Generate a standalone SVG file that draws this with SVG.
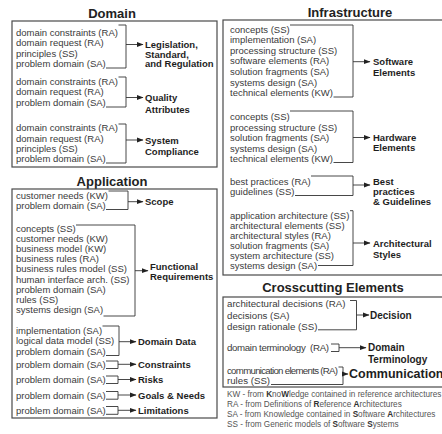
<svg xmlns="http://www.w3.org/2000/svg" width="442" height="434" viewBox="0 0 442 434">
<style>
text{font-family:"Liberation Sans",Arial,sans-serif}
.t{font-size:9.5px;fill:#3a3a3a}
.tc{font-size:9.7px;fill:#3a3a3a}
.l{font-size:9.5px;font-weight:bold;fill:#1e1e1e}
.lc{font-size:10px;font-weight:bold;fill:#1e1e1e}
.h{font-size:13px;font-weight:bold;fill:#222;text-anchor:middle}
.box{fill:#fff;stroke:#4a4a4a;stroke-width:1.2}
.br{fill:none;stroke:#333;stroke-width:0.9}
.ar{fill:none;stroke:#333;stroke-width:0.9;marker-end:url(#ah)}
.lg{font-size:8.2px;fill:#555}
.b{font-weight:bold;fill:#333}
</style>
<defs>
<marker id="ah" markerUnits="userSpaceOnUse" markerWidth="7" markerHeight="6" refX="6" refY="3" orient="auto">
<path d="M0,0.6 L6.5,3 L0,5.4 z" fill="#222"/>
</marker>
</defs>
<rect width="442" height="434" fill="#fff"/>

<g id="domain">
<text class="h" x="112" y="18">Domain</text>
<rect class="box" x="12" y="21" width="205" height="146"/>
</g>
<g id="application">
<text class="h" x="112" y="186">Application</text>
<rect class="box" x="12" y="189" width="205" height="229"/>
</g>
<g id="infrastructure">
<text class="h" x="350" y="16.5">Infrastructure</text>
<rect class="box" x="223" y="20" width="230" height="255"/>
</g>
<g id="crosscutting">
<text class="h" x="333" y="292">Crosscutting Elements</text>
<rect class="box" x="223" y="297" width="230" height="90"/>
</g>

<g id="legislation">
<text class="t" x="16" y="35.5">domain constraints (RA)</text>
<text class="t" x="16" y="46">domain request (RA)</text>
<text class="t" x="16" y="56.5">principles (SS)</text>
<text class="t" x="16" y="67">problem domain (SA)</text>
<text class="l" x="145" y="48">Legislation,</text>
<text class="l" x="145" y="57.5">Standard,</text>
<text class="l" x="145" y="67">and Regulation</text>
</g>
<g id="quality">
<text class="t" x="16" y="84.5">domain constraints (RA)</text>
<text class="t" x="16" y="95">domain request (RA)</text>
<text class="t" x="16" y="105.5">problem domain (SA)</text>
<text class="l" x="145" y="101">Quality</text>
<text class="l" x="145" y="112.5">Attributes</text>
</g>
<g id="compliance">
<text class="t" x="16" y="131">domain constraints (RA)</text>
<text class="t" x="16" y="141.5">domain request (RA)</text>
<text class="t" x="16" y="152">principles (SS)</text>
<text class="t" x="16" y="162">problem domain (SA)</text>
<text class="l" x="145" y="143.5">System</text>
<text class="l" x="145" y="155">Compliance</text>
</g>

<g id="scope">
<text class="t" x="16" y="198.5">customer needs (KW)</text>
<text class="t" x="16" y="208.5">problem domain (SA)</text>
<text class="l" x="145" y="205">Scope</text>
</g>
<g id="functional">
<text class="t" x="16" y="231.8">concepts (SS)</text>
<text class="t" x="16" y="242">customer needs (KW)</text>
<text class="t" x="16" y="252.1">business model (KW)</text>
<text class="t" x="16" y="262.3">business rules (RA)</text>
<text class="t" x="16" y="272.4">business rules model (SS)</text>
<text class="t" x="16" y="282.6">human interface arch. (SS)</text>
<text class="t" x="16" y="292.7">problem domain (SA)</text>
<text class="t" x="16" y="302.9">rules (SS)</text>
<text class="t" x="16" y="313">systems design (SA)</text>
<text class="l" x="150" y="269.5">Functional</text>
<text class="l" x="150" y="279.8">Requirements</text>
</g>
<g id="domaindata">
<text class="t" x="16" y="333.5">implementation (SA)</text>
<text class="t" x="16" y="344">logical data model (SS)</text>
<text class="t" x="16" y="354.5">problem domain (SA)</text>
<text class="l" x="138" y="345">Domain Data</text>
</g>
<g id="constraints">
<text class="t" x="16" y="367.5">problem domain (SA)</text>
<text class="l" x="138" y="367.8">Constraints</text>
</g>
<g id="risks">
<text class="t" x="16" y="382.8">problem domain (SA)</text>
<text class="l" x="138" y="383">Risks</text>
</g>
<g id="goals">
<text class="t" x="16" y="398.5">problem domain (SA)</text>
<text class="l" x="138" y="398.5">Goals &amp; Needs</text>
</g>
<g id="limitations">
<text class="t" x="16" y="413.5">problem domain (SA)</text>
<text class="l" x="138" y="413.5">Limitations</text>
</g>

<g id="software">
<text class="t" x="230" y="32.5">concepts (SS)</text>
<text class="t" x="230" y="43.1">implementation (SA)</text>
<text class="t" x="230" y="53.7">processing structure (SS)</text>
<text class="t" x="230" y="64.3">software elements (RA)</text>
<text class="t" x="230" y="74.9">solution fragments (SA)</text>
<text class="t" x="230" y="85.5">systems design (SA)</text>
<text class="t" x="230" y="96.1">technical elements (KW)</text>
<text class="l" x="373" y="65.3">Software</text>
<text class="l" x="373" y="76">Elements</text>
</g>
<g id="hardware">
<text class="t" x="230" y="120">concepts (SS)</text>
<text class="t" x="230" y="130.5">processing structure (SS)</text>
<text class="t" x="230" y="141">solution fragments (SA)</text>
<text class="t" x="230" y="151.5">systems design (SA)</text>
<text class="t" x="230" y="162">technical elements (KW)</text>
<text class="l" x="373" y="140.5">Hardware</text>
<text class="l" x="373" y="151">Elements</text>
</g>
<g id="bestpractices">
<text class="t" x="230" y="184.5">best practices (RA)</text>
<text class="t" x="230" y="195">guidelines (SS)</text>
<text class="l" x="373" y="184.5">Best</text>
<text class="l" x="373" y="194.8">practices</text>
<text class="l" x="373" y="205.2">&amp; Guidelines</text>
</g>
<g id="archstyles">
<text class="t" x="230" y="218.5">application architecture (SS)</text>
<text class="t" x="230" y="228.5">architectural elements (SS)</text>
<text class="t" x="230" y="238.5">architectural styles (RA)</text>
<text class="t" x="230" y="248.5">solution fragments (SA)</text>
<text class="t" x="230" y="258.5">system architecture (SS)</text>
<text class="t" x="230" y="268.5">systems design (SA)</text>
<text class="l" x="373" y="246.5">Architectural</text>
<text class="l" x="373" y="258">Styles</text>
</g>

<g id="decision">
<text class="tc" x="227" y="306.8">architectural decisions (RA)</text>
<text class="tc" x="227" y="318.5">decisions (SA)</text>
<text class="tc" x="227" y="329.5">design rationale (SS)</text>
<text class="lc" x="370" y="318.5">Decision</text>
</g>
<g id="terminology">
<text class="tc" x="227" y="351" textLength="102" xml:space="preserve">domain terminology  (RA)</text>
<text class="lc" x="368" y="351.3">Domain</text>
<text class="lc" x="368" y="362.5">Terminology</text>
</g>
<g id="communication">
<text class="tc" x="227" y="373.5" textLength="111">communication elements (RA)</text>
<text class="tc" x="227" y="384">rules (SS)</text>
<text class="lc" x="349" y="378.3" style="font-size:12.5px">Communication</text>
</g>

<g id="legend">
<text class="lg" x="227" y="397">KW - from <tspan class="b">K</tspan>no<tspan class="b">W</tspan>ledge contained in reference architectures</text>
<text class="lg" x="227" y="406.8">RA - from Definitions of <tspan class="b">R</tspan>eference <tspan class="b">A</tspan>rchitectures</text>
<text class="lg" x="227" y="416.7">SA - from Knowledge contained in <tspan class="b">S</tspan>oftware <tspan class="b">A</tspan>rchitectures</text>
<text class="lg" x="227" y="426.6">SS - from Generic models of <tspan class="b">S</tspan>oftware <tspan class="b">S</tspan>ystems</text>
</g>

<g id="connectors">
<path class="br" d="M118.5,25 H126 V68 H106"/>
<path class="ar" d="M126,44.5 H143"/>
<path class="br" d="M118.5,77 H126 V107 H106"/>
<path class="ar" d="M126,97.5 H143"/>
<path class="br" d="M118.5,124 H126 V163 H106"/>
<path class="ar" d="M126,140 H143"/>
<path class="br" d="M108.5,191 H128 V209.5 H106"/>
<path class="ar" d="M128,201.7 H143"/>
<path class="br" d="M76,225 H135 V316 H103.5"/>
<path class="ar" d="M135,270.7 H148"/>
<path class="br" d="M102.5,326 H119 V355.5 H106"/>
<path class="ar" d="M119,341.7 H136"/>
<path class="br" d="M106,361 H118 V368.5 H106"/>
<path class="ar" d="M118,364.3 H136"/>
<path class="br" d="M106,376 H118 V383.5 H106"/>
<path class="ar" d="M118,379.5 H136"/>
<path class="br" d="M106,391.5 H118 V399.2 H106"/>
<path class="ar" d="M118,395 H136"/>
<path class="br" d="M106,406.5 H118 V414.3 H106"/>
<path class="ar" d="M118,410.3 H136"/>
<path class="br" d="M290,25 H353 V97 H333.5"/>
<path class="ar" d="M353,61.7 H370"/>
<path class="br" d="M290,111 H353 V162.5 H333.5"/>
<path class="ar" d="M353,137.5 H370"/>
<path class="br" d="M311,176 H353 V195.5 H295"/>
<path class="ar" d="M353,185 H370"/>
<path class="br" d="M350,210.7 H353 V265.5 H318"/>
<path class="ar" d="M353,243 H370"/>
<path class="br" d="M350,300.5 H356.5 V329.8 H318"/>
<path class="ar" d="M356.5,315 H369"/>
<path class="br" d="M331,344 H339 V351.5 H331"/>
<path class="ar" d="M339,347.7 H366"/>
<path class="br" d="M338.5,367 H343 V384.5 H271"/>
<path class="ar" d="M343,374 H348"/>
</g>
</svg>
